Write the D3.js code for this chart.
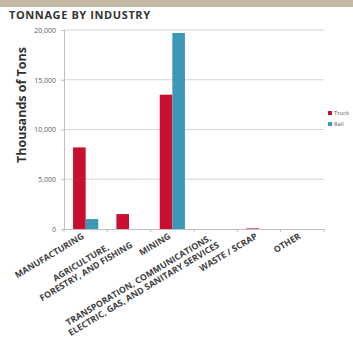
<!DOCTYPE html>
<html>
<head>
<meta charset="utf-8">
<script src="https://cdn.jsdelivr.net/npm/d3@7"></script>
<style>
  body { margin: 0; background: #fff; }
  svg { display: block; font-family: "Open Sans", sans-serif; }
</style>
</head>
<body>
<div id="chart"></div>
<script>
const categories = ["MANUFACTURING", "AGRICULTURE", "MINING", "TRANSPORATION", "WASTE / SCRAP", "OTHER"];
const categoryLines = [
    ["MANUFACTURING"],
    ["AGRICULTURE,", "FORESTRY, AND FISHING"],
    ["MINING"],
    ["TRANSPORATION, COMMUNICATIONS,", "ELECTRIC, GAS, AND SANITARY SERVICES"],
    ["WASTE / SCRAP"],
    ["OTHER"]
];
const seriesNames = ["Truck", "Rail"];
const truckValues = [8200, 1500, 13500, 0, 60, 0];
const railValues = [1000, 0, 19700, 0, 0, 0];
const yTicks = [0, 5000, 10000, 15000, 20000];

const W = 353, H = 339;
const margin = { top: 30, right: 29, bottom: 110, left: 64 };
const width = W - margin.left - margin.right;
const height = H - margin.top - margin.bottom;
const colors = { Truck: "#c8102e", Rail: "#3d97b8" };

const svg = d3.select("#chart").append("svg")
    .attr("width", W)
    .attr("height", H);

// top banner strip
svg.append("rect")
    .attr("x", 0).attr("y", 0)
    .attr("width", W).attr("height", 7)
    .attr("fill", "#c4b8a7");

svg.append("text")
    .attr("x", 9).attr("y", 19)
    .attr("font-size", 11)
    .attr("font-weight", 700)
    .attr("letter-spacing", 0.6)
    .attr("fill", "#333")
    .text("TONNAGE BY INDUSTRY");

const g = svg.append("g")
    .attr("transform", `translate(${margin.left}, ${margin.top})`);

const x0 = d3.scaleBand()
    .domain(categories)
    .range([0, width])
    .padding(0);

const x1 = d3.scaleBand()
    .domain(seriesNames)
    .range([0, x0.bandwidth()])
    .paddingInner(0)
    .paddingOuter(0.72);

const y = d3.scaleLinear()
    .domain([0, 20000])
    .range([height, 0]);

// gridlines
g.append("g")
    .selectAll("line")
    .data(yTicks.filter(d => d > 0))
    .join("line")
    .attr("x1", 0)
    .attr("x2", width)
    .attr("y1", d => y(d))
    .attr("y2", d => y(d))
    .attr("stroke", "#d4d4d4")
    .attr("stroke-width", 1);

// y axis
const yAxis = g.append("g")
    .call(d3.axisLeft(y).tickValues(yTicks).tickSize(3).tickPadding(5).tickFormat(d3.format(",")));
yAxis.select(".domain").attr("stroke", "#bfbfbf");
yAxis.selectAll(".tick line").attr("stroke", "#bfbfbf");
yAxis.selectAll(".tick text")
    .attr("font-family", "Open Sans")
    .attr("font-size", 7)
    .attr("fill", "#606060");

// bars
const rows = categories.map((c, i) => ({ cat: c, Truck: truckValues[i], Rail: railValues[i] }));

g.append("g")
    .selectAll("g")
    .data(rows)
    .join("g")
    .attr("transform", d => `translate(${x0(d.cat)}, 0)`)
    .selectAll("rect")
    .data(d => seriesNames.map(s => ({ key: s, value: d[s] })).filter(d => d.value > 0))
    .join("rect")
    .attr("x", d => x1(d.key))
    .attr("y", d => y(d.value))
    .attr("width", x1.bandwidth())
    .attr("height", d => Math.max(1, y(0) - y(d.value)))
    .attr("fill", d => colors[d.key]);

// x axis
const xAxis = g.append("g")
    .attr("transform", `translate(0, ${height})`)
    .call(d3.axisBottom(x0).tickValues([]).tickSizeOuter(0));
xAxis.select(".domain").attr("stroke", "#bfbfbf");

const bounds = d3.range(categories.length + 1).map(i => i * x0.step());
xAxis.selectAll(".bnd")
    .data(bounds)
    .join("line")
    .attr("class", "bnd")
    .attr("x1", d => d).attr("x2", d => d)
    .attr("y1", 0).attr("y2", 3)
    .attr("stroke", "#bfbfbf");

// rotated category labels
const labels = xAxis.selectAll(".lbl")
    .data(categories)
    .join("text")
    .attr("class", "lbl")
    .attr("transform", d => `translate(${x0(d) + x0.bandwidth() / 2 - 1}, 9) rotate(-31)`)
    .attr("font-family", "Open Sans")
    .attr("font-size", 8.8)
    .attr("font-weight", 700)
    .attr("fill", "#404040");

labels.each(function(d, i) {
    const t = d3.select(this);
    const lines = categoryLines[i];
    const spans = lines.map((line, j) => t.append("tspan")
        .attr("text-anchor", "middle")
        .attr("dy", j === 0 ? 0 : "1.15em")
        .text(line));
    const maxW = d3.max(spans, s => s.node().getComputedTextLength());
    spans.forEach(s => s.attr("x", -maxW / 2));
});

// y axis title
svg.append("text")
    .attr("transform", `translate(26, 105) rotate(-90)`)
    .attr("text-anchor", "middle")
    .attr("font-size", 12.5)
    .attr("font-weight", 700)
    .attr("fill", "#333")
    .text("Thousands of Tons");

// legend
const legend = svg.append("g")
    .attr("transform", "translate(328, 111)");

legend.selectAll("g")
    .data(seriesNames)
    .join("g")
    .attr("transform", (d, i) => `translate(0, ${i * 11})`)
    .each(function(d) {
        const lg = d3.select(this);
        lg.append("rect")
            .attr("width", 4).attr("height", 4)
            .attr("fill", colors[d]);
        lg.append("text")
            .attr("x", 6).attr("y", 4)
            .attr("font-size", 5.8)
            .attr("fill", "#595959")
            .text(d);
    });
</script>
</body>
</html>
